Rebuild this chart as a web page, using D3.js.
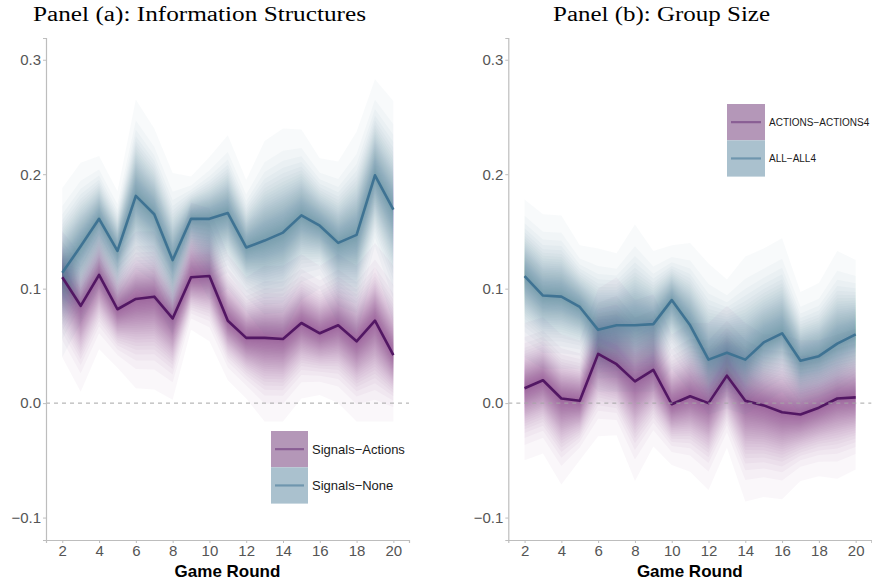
<!DOCTYPE html>
<html>
<head>
<meta charset="utf-8">
<script src="https://cdn.jsdelivr.net/npm/d3@7"></script>
<style>
  body { margin: 0; background: #fff; }
  .tick text { font-family: "Liberation Sans", Arial, sans-serif; fill: #555; }
</style>
</head>
<body>
<svg id="chart" width="872" height="585"></svg>
<script>
// game rounds on the x axis
const rounds = [2, 3, 4, 5, 6, 7, 8, 9, 10, 11, 12, 13, 14, 15, 16, 17, 18, 19, 20];
const yTicks = [-0.1, 0.0, 0.1, 0.2, 0.3];
const xTicks = [2, 4, 6, 8, 10, 12, 14, 16, 18, 20];

// panel (a) Signals-Actions: median, outer lower, outer upper
const aActionsMid = [0.110, 0.085, 0.112, 0.082, 0.091, 0.093, 0.074, 0.110, 0.111, 0.072, 0.057, 0.057, 0.056, 0.070, 0.061, 0.068, 0.054, 0.072, 0.042];
const aActionsLo  = [0.040, 0.010, 0.047, 0.031, 0.013, 0.012, 0.003, 0.064, 0.054, 0.020, 0.004, -0.016, -0.016, 0.004, 0.007, 0.000, -0.016, -0.016, -0.016];
const aActionsHi  = [0.150, 0.130, 0.160, 0.130, 0.150, 0.150, 0.120, 0.175, 0.170, 0.130, 0.110, 0.120, 0.120, 0.130, 0.120, 0.130, 0.120, 0.140, 0.120];

// panel (a) Signals-None
const aNoneMid = [0.114, 0.137, 0.161, 0.133, 0.181, 0.165, 0.125, 0.161, 0.161, 0.166, 0.136, 0.142, 0.149, 0.164, 0.155, 0.140, 0.147, 0.199, 0.169];
const aNoneLo  = [0.040, 0.070, 0.100, 0.080, 0.100, 0.090, 0.060, 0.120, 0.090, 0.100, 0.080, 0.060, 0.060, 0.090, 0.100, 0.070, 0.060, 0.120, 0.070];
const aNoneHi  = [0.188, 0.210, 0.216, 0.185, 0.265, 0.240, 0.201, 0.198, 0.215, 0.234, 0.195, 0.229, 0.240, 0.239, 0.214, 0.211, 0.237, 0.283, 0.264];

// panel (b) ACTIONS-ACTIONS4
const bActionsMid = [0.013, 0.020, 0.004, 0.002, 0.043, 0.034, 0.019, 0.029, -0.001, 0.006, 0.000, 0.024, 0.002, -0.002, -0.008, -0.010, -0.004, 0.004, 0.005];
const bActionsLo  = [-0.050, -0.044, -0.071, -0.050, -0.029, -0.028, -0.068, -0.038, -0.054, -0.060, -0.076, -0.039, -0.086, -0.082, -0.084, -0.068, -0.064, -0.066, -0.058];
const bActionsHi  = [0.070, 0.075, 0.060, 0.055, 0.100, 0.110, 0.090, 0.095, 0.060, 0.070, 0.070, 0.085, 0.070, 0.060, 0.060, 0.055, 0.055, 0.060, 0.065];

// panel (b) ALL-ALL4
const bAllMid = [0.111, 0.094, 0.093, 0.084, 0.064, 0.068, 0.068, 0.069, 0.090, 0.068, 0.038, 0.044, 0.038, 0.053, 0.061, 0.037, 0.041, 0.052, 0.060];
const bAllLo  = [0.040, 0.030, 0.030, 0.030, 0.010, 0.010, 0.010, 0.010, 0.030, 0.010, -0.010, -0.005, -0.010, 0.000, 0.010, -0.010, -0.005, 0.000, 0.010];
const bAllHi  = [0.178, 0.165, 0.164, 0.138, 0.135, 0.131, 0.156, 0.133, 0.138, 0.140, 0.122, 0.108, 0.128, 0.135, 0.144, 0.097, 0.105, 0.133, 0.125];

const purple = { band: "#733d85", line: "#521763", key: "#b497b8", keyLine: "#8a5e94" };
const blue = { band: "#46799b", line: "#3f7393", key: "#aac1ce", keyLine: "#6f96ae" };

const svg = d3.select("#chart");
const nBands = 30;

// normal quantile by bisection (erf approximation, Abramowitz & Stegun 7.1.26)
function erf(z) {
    const t = 1 / (1 + 0.3275911 * Math.abs(z));
    const yv = 1 - (((((1.061405429 * t - 1.453152027) * t) + 1.421413741) * t - 0.284496736) * t + 0.254829592) * t * Math.exp(-z * z);
    return z >= 0 ? yv : -yv;
}
function qnorm(p) {
    let lo = -6, hi = 6;
    for (let i = 0; i < 60; i++) {
        const m = (lo + hi) / 2;
        if (0.5 * (1 + erf(m / Math.SQRT2)) < p) lo = m; else hi = m;
    }
    return (lo + hi) / 2;
}
const zOuter = qnorm(0.995);

function drawPanel(opts) {
    const x = d3.scaleLinear().domain([1.115, 20.85]).range([opts.left, opts.left + 363]);
    const y = d3.scaleLinear().domain([-0.1196, 0.319]).range([540, 38]);
    const g = svg.append("g");

    g.append("clipPath").attr("id", "clip" + opts.id)
        .append("rect").attr("x", opts.left).attr("y", 38).attr("width", 363).attr("height", 502);

    const plot = g.append("g").attr("clip-path", "url(#clip" + opts.id + ")");

    // fan of nested quantile bands, widest first
    opts.series.forEach(s => {
        for (let k = nBands; k >= 1; k--) {
            const f = qnorm(0.5 + 0.495 * k / nBands) / zOuter;
            const area = d3.area()
                .x((d, i) => x(rounds[i]))
                .y0((d, i) => y(s.mid[i] - f * (s.mid[i] - s.lo[i])))
                .y1((d, i) => y(s.mid[i] + f * (s.hi[i] - s.mid[i])));
            plot.append("path")
                .datum(rounds)
                .attr("d", area)
                .attr("fill", s.col.band)
                .attr("fill-opacity", 0.04);
        }
    });

    // zero reference
    g.append("line")
        .attr("x1", opts.left).attr("x2", opts.left + 363)
        .attr("y1", y(0)).attr("y2", y(0))
        .attr("stroke", "#a6a6a6").attr("stroke-width", 1)
        .attr("stroke-dasharray", "4,4");

    opts.series.forEach(s => {
        const line = d3.line().x((d, i) => x(rounds[i])).y(d => y(d));
        plot.append("path")
            .datum(s.mid)
            .attr("d", line)
            .attr("fill", "none")
            .attr("stroke", s.col.line)
            .attr("stroke-width", 2.6)
            .attr("stroke-linejoin", "round");
    });

    // axes
    const xAxis = g.append("g").attr("transform", "translate(0,540)")
        .call(d3.axisBottom(x).tickValues(xTicks).tickSize(3).tickPadding(2));
    const yAxis = g.append("g").attr("transform", "translate(" + opts.left + ",0)")
        .call(d3.axisLeft(y).tickValues(yTicks).tickSize(3).tickPadding(2)
            .tickFormat(d => d3.format(".1f")(d).replace("-", "\u2212")));
    [xAxis, yAxis].forEach(a => {
        a.select(".domain").attr("stroke", "#bdbdbd").attr("stroke-width", 1.2);
        a.selectAll(".tick line").attr("stroke", "#bdbdbd");
        a.selectAll(".tick text").attr("font-size", 15);
    });

    g.append("text")
        .attr("x", opts.left + 181.5).attr("y", 577)
        .attr("text-anchor", "middle")
        .attr("font-family", "Liberation Sans, Arial, sans-serif")
        .attr("font-weight", "bold").attr("font-size", 17)
        .text("Game Round");

    g.append("text")
        .attr("x", opts.titleX).attr("y", 21)
        .attr("text-anchor", "middle")
        .attr("font-family", "Liberation Serif, serif")
        .attr("font-size", 20)
        .attr("textLength", opts.titleW).attr("lengthAdjust", "spacingAndGlyphs")
        .text(opts.title);

    // legend
    const lg = g.append("g").attr("transform", "translate(" + opts.legX + "," + opts.legY + ")");
    opts.series.forEach((s, i) => {
        const row = lg.append("g").attr("transform", "translate(0," + i * opts.keyH + ")");
        row.append("rect").attr("width", opts.keyW).attr("height", opts.keyH).attr("fill", s.col.key);
        row.append("line")
            .attr("x1", 4).attr("x2", opts.keyW - 4)
            .attr("y1", opts.keyH / 2).attr("y2", opts.keyH / 2)
            .attr("stroke", s.col.keyLine).attr("stroke-width", 2.2);
        row.append("text")
            .attr("x", opts.keyW + 4).attr("y", opts.keyH / 2)
            .attr("dy", "0.35em")
            .attr("font-family", "Liberation Sans, Arial, sans-serif")
            .attr("font-size", opts.legFont)
            .attr("fill", "#1a1a1a")
            .text(s.name);
    });
}

drawPanel({
    id: "a", left: 46, title: "Panel (a): Information Structures", titleX: 199.5, titleW: 333,
    legX: 271, legY: 431, keyW: 37, keyH: 36.3, legFont: 13,
    series: [
        { name: "Signals\u2212Actions", mid: aActionsMid, lo: aActionsLo, hi: aActionsHi, col: purple },
        { name: "Signals\u2212None", mid: aNoneMid, lo: aNoneLo, hi: aNoneHi, col: blue }
    ]
});

drawPanel({
    id: "b", left: 508.3, title: "Panel (b): Group Size", titleX: 661.5, titleW: 217,
    legX: 727, legY: 104, keyW: 38, keyH: 36.3, legFont: 10,
    series: [
        { name: "ACTIONS\u2212ACTIONS4", mid: bActionsMid, lo: bActionsLo, hi: bActionsHi, col: purple },
        { name: "ALL\u2212ALL4", mid: bAllMid, lo: bAllLo, hi: bAllHi, col: blue }
    ]
});
</script>
</body>
</html>
